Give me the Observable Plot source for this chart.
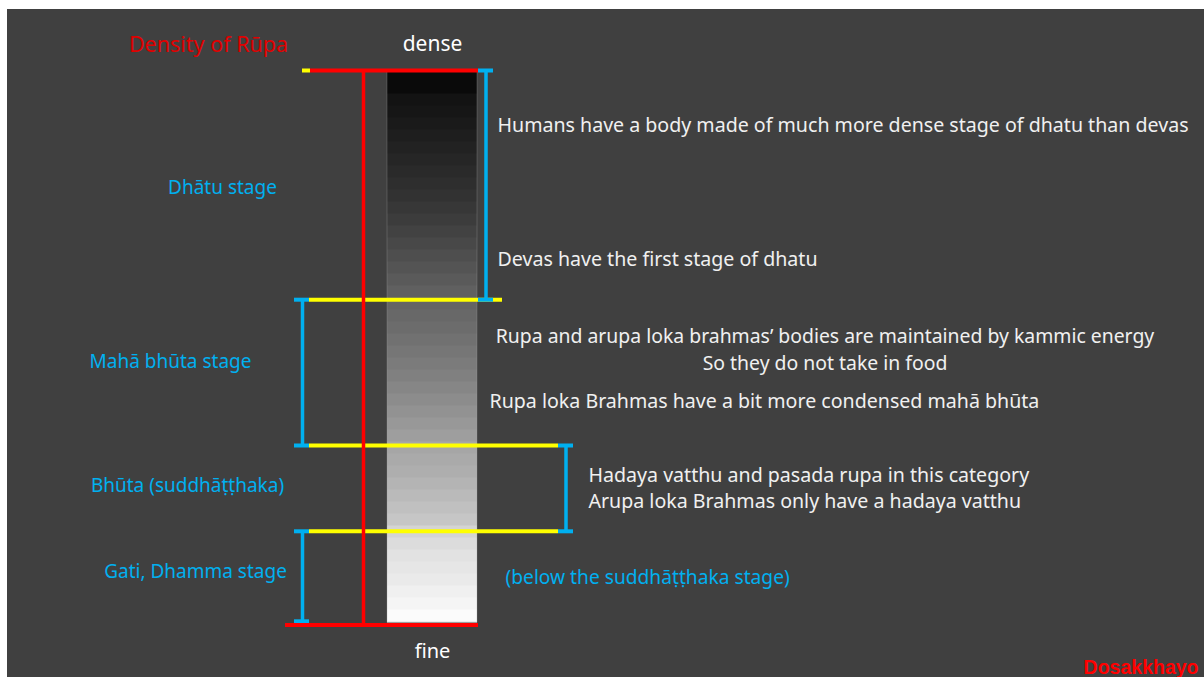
<!DOCTYPE html>
<html>
<head>
<meta charset="utf-8">
<script src="https://cdn.jsdelivr.net/npm/d3@7"></script>
<script src="https://cdn.jsdelivr.net/npm/@observablehq/plot@0.6"></script>
<style>
  html, body { margin: 0; padding: 0; background: #ffffff; }
  #chart { position: absolute; left: 7px; top: 9px; }
</style>
</head>
<body>
<div id="chart"></div>
<script>
// ---------- DATA ----------
// Gray level of each density band, from dense (top) to fine (bottom)
const shades = [10, 10, 19, 22, 26, 30, 34, 38, 42, 46, 50, 55, 60, 66, 72, 78, 84, 90, 96, 100,
                104, 108, 113, 118, 123, 128, 134, 140, 146, 152, 158, 166, 170, 174, 180, 186,
                192, 198, 212, 220, 226, 230, 234, 240, 245, 251];
// Stage names and their density-level boundaries (in bands)
const stageNames = ["Dhātu stage", "Mahā bhūta stage", "Bhūta (suddhāṭṭhaka)", "Gati, Dhamma stage"];
const stageBounds = [0, 19.1, 31.25, 38.4, 46];
const stageLabelLevels = [9.75, 24.25, 34.6, 41.75];
// Notes and the density level they refer to
const notes = [
  "Humans have a body made of much more dense stage of dhatu than devas",
  "Devas have the first stage of dhatu",
  "Rupa and arupa loka brahmas’ bodies are maintained by kammic energy",
  "So they do not take in food",
  "Rupa loka Brahmas have a bit more condensed mahā bhūta",
  "Hadaya vatthu and pasada rupa in this category",
  "Arupa loka Brahmas only have a hadaya vatthu",
  "(below the suddhāṭṭhaka stage)"
];
const noteLevels = [4.6, 15.75, 22.15, 24.4, 27.6, 33.8, 35.9, 42.25];
const titleText = "Density of Rūpa";
const endLabels = ["dense", "fine"];
const creditText = "Dosakkhayo";

// ---------- LAYOUT / STYLE ----------
const RED = "#ff0000", YELLOW = "#ffff00", BLUE = "#00b0f0", WHITE = "#f0f0f0";
const FONT = "'Noto Sans', 'Open Sans', sans-serif";
const bar = {left: 387, right: 477};
const axisX = 363;
const noteX = [{x: 497, a: "start"}, {x: 497, a: "start"}, {x: 824.5, a: "middle"}, {x: 824.5, a: "middle"},
               {x: 489, a: "start"}, {x: 588, a: "start"}, {x: 588, a: "start"}, {x: 505, a: "start"}];
const stageLabelX = [222, 170, 187, 195];
const brackets = [
  {x: 485.5, t1: 478, t2: 493, from: stageBounds[0], to: stageBounds[1]},
  {x: 302, t1: 294, t2: 309, from: stageBounds[1], to: stageBounds[2]},
  {x: 565.5, t1: 558, t2: 573, from: stageBounds[2], to: stageBounds[3]},
  {x: 302, t1: 294, t2: 309, from: stageBounds[3], to: 45.9}
];
const yellowRight = [502, 558, 558];

const bands = shades.map((g, i) => ({lo: i, hi: i + 1, g}));
const yellowLines = stageBounds.slice(1, 4).map((lv, i) => ({lv, x2: yellowRight[i]}));
const noteRows = notes.map((t, i) => ({t, lv: noteLevels[i], x: noteX[i].x, a: noteX[i].a, blue: i === 7}));
const stageRows = stageNames.map((t, i) => ({t, lv: stageLabelLevels[i], x: stageLabelX[i]}));
const tickRows = brackets.flatMap(b => [{x1: b.t1, x2: b.t2, lv: b.from}, {x1: b.t1, x2: b.t2, lv: b.to}]);

const chart = Plot.plot({
  width: 1197,
  height: 668,
  marginLeft: 0,
  marginRight: 0,
  marginTop: 61,
  marginBottom: 55,
  style: {background: "#404040", fontFamily: FONT},
  x: {domain: [7, 1204], axis: null},
  y: {domain: [0, 46], reverse: true, axis: null},
  marks: [
    // gradient bar
    Plot.rect(bands, {x1: bar.left, x2: bar.right, y1: "lo", y2: "hi",
      fill: d => `rgb(${d.g},${d.g},${d.g})`, insetTop: -0.5, insetBottom: -0.5}),
    Plot.rect([0], {x1: bar.left, x2: bar.right, y1: 0, y2: 46, fill: "none",
      stroke: "#a0a0a0", strokeOpacity: 0.3, strokeWidth: 1}),
    // yellow stage boundaries
    Plot.ruleY(yellowLines, {y: "lv", x1: 309, x2: "x2", stroke: YELLOW, strokeWidth: 4}),
    Plot.ruleY([0], {x1: 302, x2: 310, stroke: YELLOW, strokeWidth: 4}),
    // blue brackets
    Plot.ruleX(brackets, {x: "x", y1: "from", y2: "to", stroke: BLUE, strokeWidth: 3.5}),
    Plot.ruleY(tickRows, {y: "lv", x1: "x1", x2: "x2", stroke: BLUE, strokeWidth: 4}),
    // red density axis
    Plot.ruleX([axisX], {y1: 0, y2: 46.2, stroke: RED, strokeWidth: 3.5}),
    Plot.ruleY([0], {x1: 310, x2: 478, stroke: RED, strokeWidth: 4}),
    Plot.ruleY([46.2], {x1: 285, x2: 478, stroke: RED, strokeWidth: 4}),
    // texts
    Plot.text([titleText], {x: 208, y: -2.1, text: d => d, fill: "#e00000", fontSize: 21.5}),
    Plot.text([endLabels[0]], {x: 432, y: -2.15, text: d => d, fill: "#ffffff", fontSize: 21}),
    Plot.text([endLabels[1]], {x: 432, y: 48.4, text: d => d, fill: "#ffffff", fontSize: 20}),
    Plot.text(stageRows, {x: "x", y: "lv", text: "t", fill: BLUE, fontSize: 19}),
    Plot.text(noteRows.filter(d => d.a === "start"), {x: "x", y: "lv", text: "t",
      fill: d => d.blue ? BLUE : WHITE, textAnchor: "start", fontSize: d => d.blue ? 19.2 : 19.6}),
    Plot.text(noteRows.filter(d => d.a === "middle"), {x: "x", y: "lv", text: "t",
      fill: WHITE, textAnchor: "middle", fontSize: 19.4}),
    Plot.text([creditText], {x: 1198, y: 49.75, text: d => d, fill: RED, textAnchor: "end",
      fontSize: 19.5, fontWeight: "bold", fontFamily: "'Liberation Sans', Arial, sans-serif"})
  ]
});
document.getElementById("chart").appendChild(chart);
</script>
</body>
</html>
